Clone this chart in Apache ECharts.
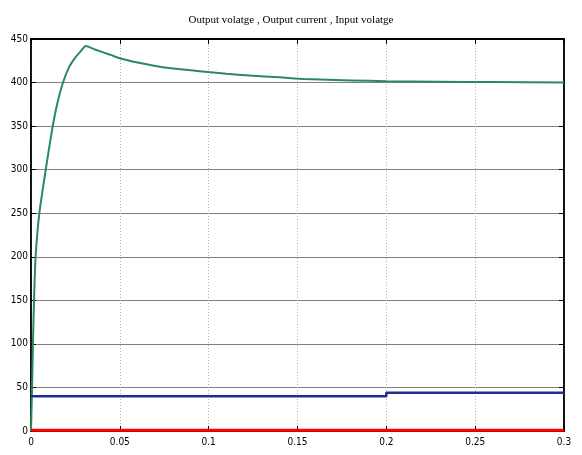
<!DOCTYPE html>
<html><head><meta charset="utf-8">
<script src="https://cdn.jsdelivr.net/npm/echarts@6/dist/echarts.min.js"></script>
<style>html,body{margin:0;padding:0;background:#fff}#c{width:582px;height:455px}</style>
</head><body><div id="c"></div>
<script>
// Output voltage (green)
const vOutT = [0, 0.0006, 0.0011, 0.0017, 0.0026, 0.0047, 0.0083, 0.0118, 0.0148, 0.0180, 0.0215, 0.0250, 0.0280, 0.0308, 0.0360, 0.0445, 0.0500, 0.0600, 0.0700, 0.0800, 0.0950, 0.1100, 0.1230, 0.1400, 0.1540, 0.1800, 0.2000, 0.2300, 0.2600, 0.3000];
const vOutV = [0, 50, 100, 150, 200, 250, 300, 345, 376, 400, 418, 429, 436, 442, 438, 432, 428, 423, 419, 416, 413, 410, 408, 406, 404, 402.5, 401.5, 401, 400.5, 400];
// Output current (blue)
const iOutT = [0, 0.2, 0.2, 0.3];
const iOutV = [40, 40, 44, 44];
// Input voltage (red)
const vInT = [0, 0.3];
const vInV = [1, 1];
const xTicks = [0, 0.05, 0.1, 0.15, 0.2, 0.25, 0.3];
const yTicks = [0, 50, 100, 150, 200, 250, 300, 350, 400, 450];

const zip = (a, b) => a.map((x, i) => [x, b[i]]);
const lblFont = "'Liberation Sans Narrow','DejaVu Sans Condensed','Liberation Sans',sans-serif";
const chart = echarts.init(document.getElementById('c'), null, {renderer: 'canvas'});
chart.setOption({
  animation: false,
  backgroundColor: '#fff',
  title: {
    text: 'Output volatge , Output current , Input volatge',
    left: 'center', top: 10,
    textStyle: {fontFamily: "'Liberation Sans Narrow','Liberation Serif',serif", fontWeight: 'normal', fontSize: 11, color: '#000'}
  },
  grid: {left: 31, right: 18, top: 39, bottom: 24, show: true, borderColor: '#000', borderWidth: 1.5, backgroundColor: 'transparent'},
  xAxis: [{
    type: 'value', min: xTicks[0], max: xTicks[xTicks.length - 1], interval: 0.05,
    axisLine: {show: true, onZero: false, lineStyle: {color: '#000', width: 1.5}},
    axisTick: {show: true, inside: true, length: 5, lineStyle: {color: '#000'}},
    axisLabel: {color: '#000', fontFamily: lblFont, fontSize: 10, margin: 6, formatter: v => String(+v.toFixed(2))},
    splitLine: {show: true, lineStyle: {color: '#b0b0b0', type: [1, 2], width: 1}}
  }, {
    type: 'value', position: 'top', min: xTicks[0], max: xTicks[xTicks.length - 1], interval: 0.05,
    axisLine: {show: true, onZero: false, lineStyle: {color: '#000', width: 2}},
    axisTick: {show: true, inside: true, length: 5, lineStyle: {color: '#000'}},
    axisLabel: {show: false}, splitLine: {show: false}
  }],
  yAxis: [{
    type: 'value', min: yTicks[0], max: yTicks[yTicks.length - 1], interval: 50,
    axisLine: {show: true, onZero: false, lineStyle: {color: '#000', width: 1.5}},
    axisTick: {show: true, inside: true, length: 5, lineStyle: {color: '#000'}},
    axisLabel: {color: '#000', fontFamily: lblFont, fontSize: 10, margin: 3},
    splitLine: {show: true, lineStyle: {color: '#808080', width: 1}}
  }, {
    type: 'value', position: 'right', min: yTicks[0], max: yTicks[yTicks.length - 1], interval: 50,
    axisLine: {show: true, onZero: false, lineStyle: {color: '#000', width: 1.5}},
    axisTick: {show: true, inside: true, length: 5, lineStyle: {color: '#000'}},
    axisLabel: {show: false}, splitLine: {show: false}
  }],
  series: [
    {name: 'Output voltage', type: 'line', data: zip(vOutT, vOutV), smooth: 0.2, showSymbol: false,
     lineStyle: {color: '#2a8a5c', width: 2}, z: 3},
    {name: 'Output current', type: 'line', data: zip(iOutT, iOutV), showSymbol: false,
     lineStyle: {color: '#1c2f8f', width: 2.5}, z: 4},
    {name: 'Input voltage', type: 'line', data: zip(vInT, vInV), showSymbol: false,
     lineStyle: {color: '#ff0000', width: 3}, z: 5}
  ]
});
</script></body></html>
